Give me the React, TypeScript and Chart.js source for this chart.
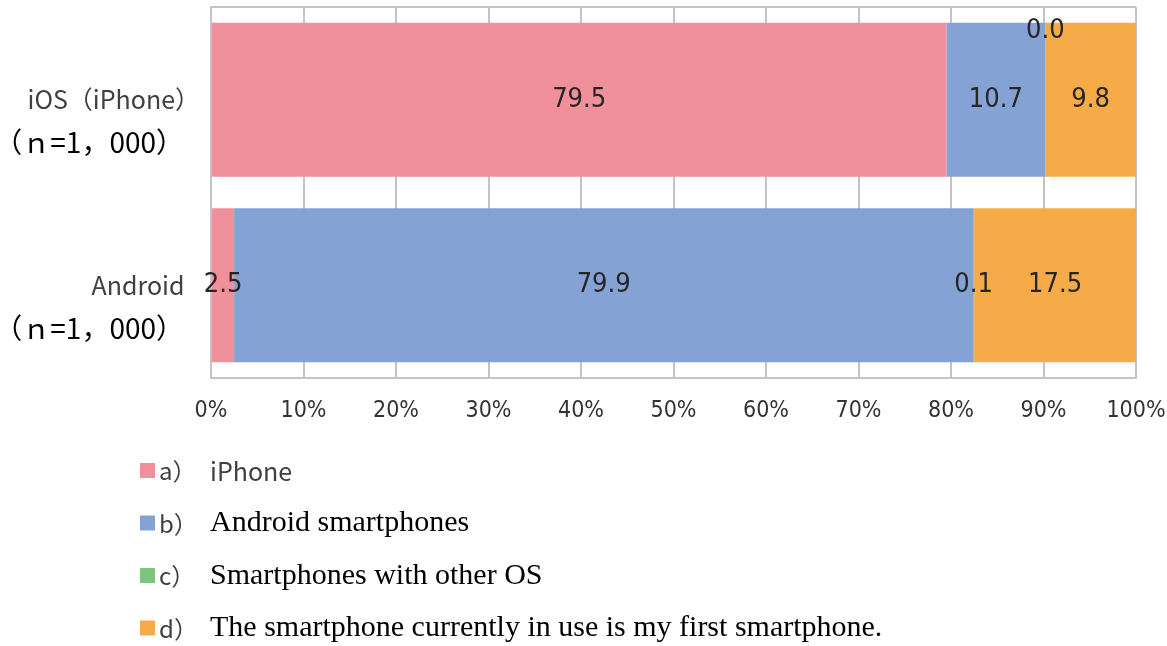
import React, { useEffect, useRef } from "react";
import { Chart, registerables } from "chart.js";

Chart.register(...registerables);

const categories = ["iOS（iPhone）", "Android"];
const sampleSizes = ["（ｎ=1，000）", "（ｎ=1，000）"];
const seriesKeys = ["a）", "b）", "c）", "d）"];
const seriesNames = [
  "iPhone",
  "Android smartphones",
  "Smartphones with other OS",
  "The smartphone currently in use is my first smartphone.",
];
const iphoneValues = [79.5, 2.5];
const androidValues = [10.7, 79.9];
const otherOsValues = [0.0, 0.1];
const firstPhoneValues = [9.8, 17.5];
const seriesColors = ["#F0909A", "#84A2D4", "#7DC47D", "#F5AC48"];
const tickLabels = ["0%", "10%", "20%", "30%", "40%", "50%", "60%", "70%", "80%", "90%", "100%"];

const GOTHIC = '"Liberation Sans Narrow", "DejaVu Sans Condensed", sans-serif';
const CJK = '"Noto Sans CJK JP", sans-serif';
const SERIF = '"Liberation Serif", "Times New Roman", serif';

function fillInkRight(ctx: any, text: string, right: number, y: number) {
  const m = ctx.measureText(text);
  ctx.textAlign = "left";
  ctx.fillText(text, right - m.actualBoundingBoxRight, y);
}

const customPlugin = {
  id: "customDraw",
  beforeDatasetsDraw(chart: any) {
    const { ctx, chartArea } = chart;
    ctx.save();
    ctx.strokeStyle = "#C4C4C4";
    ctx.lineWidth = 2;
    ctx.beginPath();
    ctx.moveTo(chartArea.left, chartArea.top);
    ctx.lineTo(chartArea.right, chartArea.top);
    ctx.stroke();
    ctx.restore();
  },
  afterDatasetsDraw(chart: any) {
    const { ctx } = chart;
    ctx.save();
    ctx.font = `27px ${GOTHIC}`;
    ctx.fillStyle = "#262626";
    ctx.textAlign = "center";
    ctx.textBaseline = "middle";
    chart.data.datasets.forEach((ds: any, i: number) => {
      const meta = chart.getDatasetMeta(i);
      meta.data.forEach((bar: any, j: number) => {
        const v = ds.data[j];
        const p = bar.getProps(["x", "y", "base", "height"], true);
        const cx = (p.x + p.base) / 2;
        let cy = p.y;
        if (v === 0) cy = p.y - p.height / 2 + 8;
        ctx.fillText(v.toFixed(1), cx, cy);
      });
    });
    ctx.restore();
  },
  afterDraw(chart: any) {
    const { ctx, chartArea, scales } = chart;
    ctx.save();
    ctx.textBaseline = "middle";
    categories.forEach((cat, j) => {
      const cy = scales.y.getPixelForValue(j);
      ctx.font = `25px ${CJK}`;
      ctx.fillStyle = "#404040";
      fillInkRight(ctx, cat, chartArea.left - 28, cy);
      ctx.font = `28px ${CJK}`;
      ctx.fillStyle = "#000000";
      fillInkRight(ctx, sampleSizes[j], chartArea.left - 46, cy + 43);
    });
    chart.data.datasets.forEach((ds: any, i: number) => {
      const cy = chartArea.bottom + 93 + i * 52.5;
      ctx.fillStyle = ds.backgroundColor;
      ctx.fillRect(140, cy - 8, 15, 15);
      ctx.textAlign = "left";
      ctx.font = `24px ${CJK}`;
      ctx.fillStyle = "#404040";
      ctx.fillText(seriesKeys[i], 159, cy);
      if (i === 0) {
        ctx.font = `25px ${CJK}`;
        ctx.fillStyle = "#404040";
      } else {
        ctx.font = `30px ${SERIF}`;
        ctx.fillStyle = "#000000";
      }
      ctx.fillText(ds.label, 210, cy);
    });
    ctx.restore();
  },
};

export default function App() {
  const canvasRef = useRef<HTMLCanvasElement | null>(null);

  useEffect(() => {
    document.body.style.margin = "0";
    document.body.style.overflow = "hidden";
    const canvas = canvasRef.current;
    if (!canvas) return;
    const seriesValues = [iphoneValues, androidValues, otherOsValues, firstPhoneValues];
    const chart = new Chart(canvas, {
      type: "bar",
      data: {
        labels: categories,
        datasets: seriesValues.map((vals, i) => ({
          label: seriesNames[i],
          data: vals,
          backgroundColor: seriesColors[i],
          borderWidth: 0,
          barPercentage: 0.83,
          categoryPercentage: 1,
        })),
      },
      options: {
        indexAxis: "y",
        animation: false,
        responsive: true,
        maintainAspectRatio: false,
        layout: { padding: { left: 211, right: 31, top: 7, bottom: 0 } },
        plugins: {
          legend: { display: false },
          tooltip: { enabled: false },
        },
        scales: {
          x: {
            stacked: true,
            min: 0,
            max: 100,
            ticks: {
              stepSize: 10,
              padding: 19,
              color: "#333333",
              font: { family: GOTHIC, size: 23 },
              callback: (_v: any, idx: number) => tickLabels[idx],
            },
            grid: { color: "#C4C4C4", lineWidth: 2, drawTicks: false },
            border: { color: "#C4C4C4", width: 2 },
            afterFit: (scale: any) => {
              scale.height = 268;
              scale.paddingLeft = 0;
              scale.paddingRight = 0;
            },
          },
          y: {
            stacked: true,
            ticks: { display: false },
            grid: { display: false, drawTicks: false },
            border: { color: "#C4C4C4", width: 2 },
            afterFit: (scale: any) => {
              scale.width = 0;
            },
          },
        },
      },
      plugins: [customPlugin],
    });
    return () => chart.destroy();
  }, []);

  return (
    <div style={{ width: 1167, height: 646, position: "relative" }}>
      <canvas ref={canvasRef} />
    </div>
  );
}
